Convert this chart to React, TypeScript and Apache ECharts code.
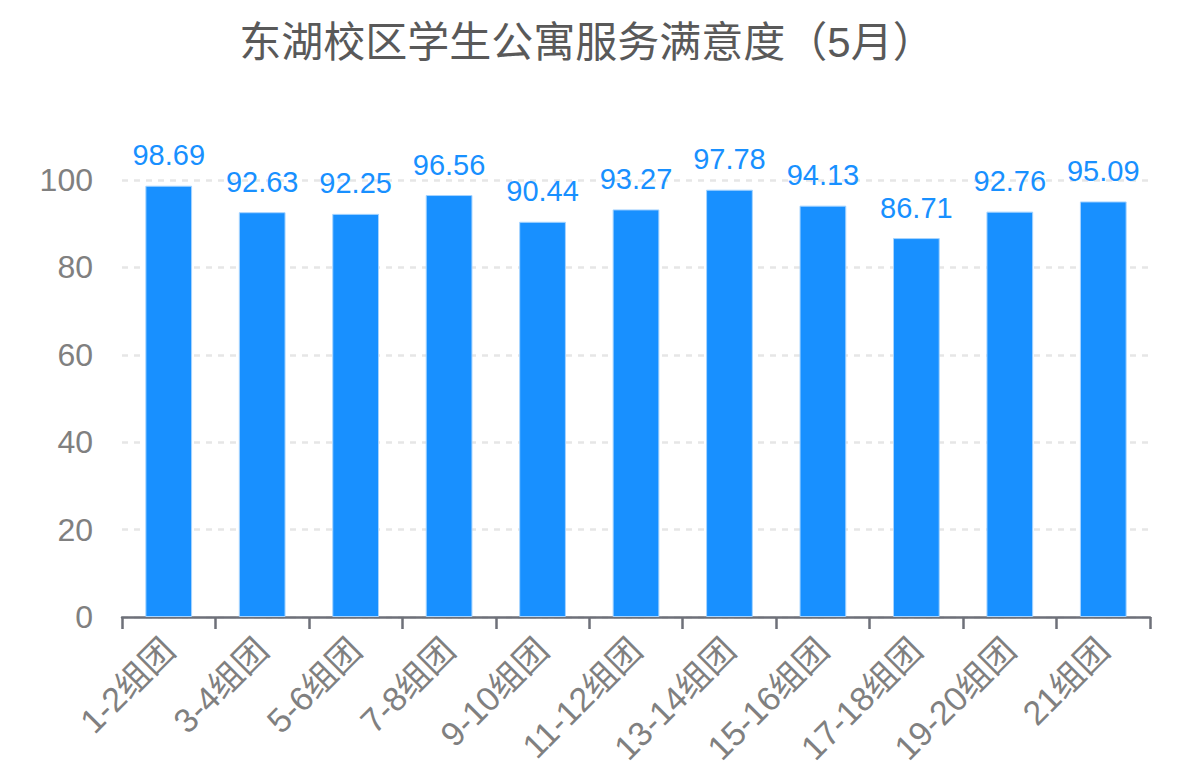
import React, { useEffect, useRef } from "react";
import * as echarts from "echarts";

const titleText = "东湖校区学生公寓服务满意度（5月）";
const categories = [
  "1-2组团",
  "3-4组团",
  "5-6组团",
  "7-8组团",
  "9-10组团",
  "11-12组团",
  "13-14组团",
  "15-16组团",
  "17-18组团",
  "19-20组团",
  "21组团",
];
const scores = [98.69, 92.63, 92.25, 96.56, 90.44, 93.27, 97.78, 94.13, 86.71, 92.76, 95.09];
const yMin = 0;
const yMax = 100;
const yInterval = 20;

const FONT = "'Liberation Sans', 'Noto Sans CJK SC', sans-serif";

export default function App() {
  const ref = useRef<HTMLDivElement>(null);
  useEffect(() => {
    if (!ref.current) return;
    const chart = echarts.init(ref.current, undefined, { renderer: "svg" });
    chart.setOption({
      animation: false,
      backgroundColor: "#ffffff",
      textStyle: { fontFamily: FONT },
      title: {
        text: titleText,
        left: 582,
        top: 16,
        textAlign: "center",
        textStyle: {
          fontFamily: FONT,
          fontSize: 42,
          fontWeight: "normal",
          color: "#595959",
        },
      },
      grid: {
        left: 122,
        right: 39,
        top: 180,
        bottom: 156,
        containLabel: false,
      },
      xAxis: {
        type: "category",
        data: categories,
        axisLine: { show: true, lineStyle: { color: "#6e7079", width: 2.5 } },
        axisTick: { show: true, length: 12, lineStyle: { color: "#6e7079", width: 2.5 } },
        axisLabel: {
          rotate: 45,
          margin: 27,
          fontSize: 34,
          color: "#808080",
          fontFamily: FONT,
        },
      },
      yAxis: {
        type: "value",
        min: yMin,
        max: yMax,
        interval: yInterval,
        axisLine: { show: false },
        axisTick: { show: false },
        axisLabel: {
          margin: 29,
          fontSize: 32,
          color: "#808080",
          fontFamily: FONT,
        },
        splitLine: {
          show: true,
          lineStyle: { color: "#e6e6e6", width: 2.5, type: [6, 6] },
        },
      },
      series: [
        {
          type: "bar",
          data: scores,
          barWidth: "50%",
          itemStyle: {
            color: "#1890ff",
            borderColor: "#a6d4ff",
            borderWidth: 1,
          },
          label: {
            show: true,
            position: "top",
            distance: 16,
            fontSize: 29,
            color: "#1890ff",
            fontFamily: FONT,
          },
        },
      ],
    });
    return () => chart.dispose();
  }, []);
  return (
    <div
      ref={ref}
      style={{ position: "fixed", left: 0, top: 0, width: 1189, height: 773 }}
    />
  );
}
